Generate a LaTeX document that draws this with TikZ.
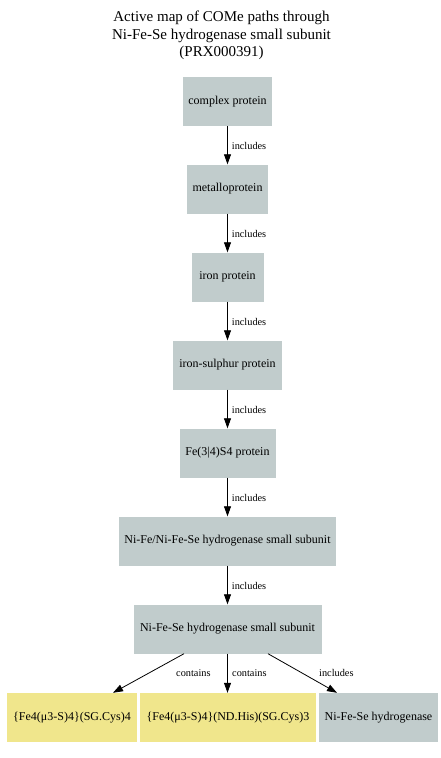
\documentclass[tikz,border=0pt]{standalone}
\usepackage{fontspec}
\setmainfont{Liberation Serif}
\usetikzlibrary{arrows.meta}
\definecolor{nodegray}{RGB}{193,204,204}
\definecolor{khakiy}{RGB}{240,230,140}
\begin{document}
\begin{tikzpicture}[x=1pt,y=-1pt,
  box/.style={fill=nodegray, draw=none, inner sep=0pt, minimum height=49pt,
    font=\fontsize{12}{14}\selectfont},
  ybox/.style={box, fill=khakiy},
  arr/.style={draw=black, line width=0.8pt, -{Triangle[length=10pt,width=7pt]}},
  lab/.style={font=\fontsize{10.3}{12}\selectfont, inner sep=0pt},
  ttl/.style={font=\fontsize{15}{17.5}\selectfont, align=center, inner sep=0pt}]
\useasboundingbox[fill=white] (0,0) rectangle (441,758);
\node[ttl] (title) at (221.5,35.5) {Active map of COMe paths through\\Ni-Fe-Se hydrogenase small subunit\\(PRX000391)};

\node[box, minimum width=89pt] (n1) at (227.5,101.5) {complex protein};
\node[box, minimum width=81pt] (n2) at (227.5,189) {metalloprotein};
\node[box, minimum width=72pt] (n3) at (227.5,277) {iron protein};
\node[box, minimum width=109pt] (n4) at (227.5,365) {iron-sulphur protein};
\node[box, minimum width=96pt] (n5) at (227.5,453) {Fe(3|4)S4 protein};
\node[box, minimum width=217pt] (n6) at (227.5,541) {Ni-Fe/Ni-Fe-Se hydrogenase small subunit};
\node[box, minimum width=188pt] (n7) at (227.5,629) {Ni-Fe-Se hydrogenase small subunit};
\node[ybox, minimum width=130pt] (b1) at (72,717.5) {\{Fe4(μ3-S)4\}(SG.Cys)4};
\node[ybox, minimum width=176pt] (b2) at (228,717.5) {\{Fe4(μ3-S)4\}(ND.His)(SG.Cys)3};
\node[box, minimum width=119pt] (b3) at (378.5,717.5) {Ni-Fe-Se hydrogenase};

\foreach \a/\b in {n1/n2,n2/n3,n3/n4,n4/n5,n5/n6,n6/n7}{
  \draw[arr] (\a) -- (\b) node[lab, midway, anchor=west, xshift=4pt, yshift=-1pt] {includes};
}
\draw[arr] ([xshift=-43.5pt]n7.south) -- ([xshift=41pt]b1.north);
\draw[arr] (n7.south) -- (b2.north -| n7.south);
\draw[arr] ([xshift=40.5pt]n7.south) -- ([xshift=-41.5pt]b3.north);
\node[lab, anchor=west] (l1) at (176,673) {contains};
\node[lab, anchor=west] (l2) at (232,673) {contains};
\node[lab, anchor=west] (l3) at (319,673) {includes};
\end{tikzpicture}
\end{document}
